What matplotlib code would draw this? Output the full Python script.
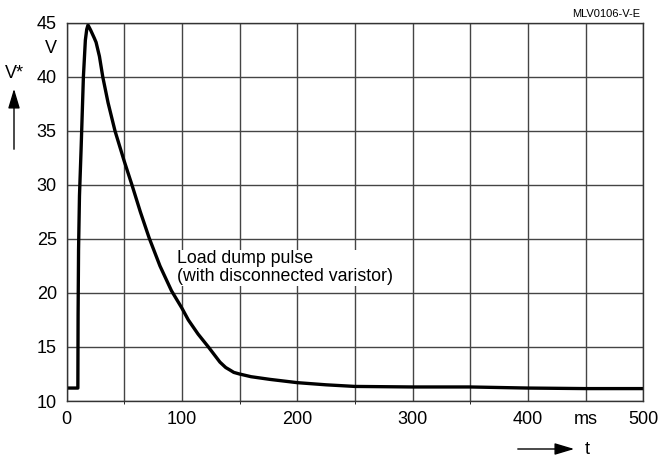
import matplotlib
matplotlib.use("Agg")
import matplotlib.pyplot as plt

# load dump pulse
t_ms = [0, 9.8, 10.0, 10.4, 11.2, 12.6, 14.6, 16.3, 17.5, 18.6, 21, 24, 25.6,
        28.5, 31.4, 36, 42, 50, 57, 64, 71.6, 81, 91, 100, 105.6, 114, 123, 133,
        138, 141.8, 145, 150, 160, 176.5, 200, 225, 250, 300, 350, 400, 450, 500]
volts = [11.2, 11.2, 18, 24, 29, 33.3, 40, 43.4, 44.4, 44.8, 44.3, 43.6, 43.2,
         41.9, 40, 37.6, 35.0, 32.2, 29.9, 27.5, 25.1, 22.5, 20.2, 18.6, 17.5,
         16.2, 15, 13.6, 13.1, 12.86, 12.65, 12.5, 12.25, 12.0, 11.7, 11.5,
         11.35, 11.3, 11.3, 11.2, 11.15, 11.15]

x_ticks = [0, 100, 200, 300, 400, 450, 500]
x_labels = ['0', '100', '200', '300', '400', 'ms', '500']
y_ticks = [10, 15, 20, 25, 30, 35, 40, 45]

plt.rcParams['font.family'] = ['Liberation Sans', 'DejaVu Sans']

fig = plt.figure(figsize=(6.59, 4.57), dpi=100)
ax = fig.add_axes([0.101, 0.1225, 0.875, 0.8275])

ax.set_xlim(0, 500)
ax.set_ylim(10, 45)
ax.set_xticks(range(0, 501, 50), minor=True)
ax.set_yticks(y_ticks)
ax.set_xticks(x_ticks)
ax.set_xticklabels(x_labels)
ax.tick_params(length=0, labelsize=13, pad=7)
ax.grid(True, which='both', color='#444444', lw=1)
for s in ax.spines.values():
    s.set_color('#333333')
    s.set_linewidth(1)

ax.plot(t_ms, volts, color='black', lw=2.4, solid_joinstyle='round')

# label sits on a white patch that hides the grid behind it
ax.text(95.5, 22.35, 'Load dump pulse\n(with disconnected varistor)', fontsize=12.8,
        va='center', ha='left', linespacing=1.05,
        bbox=dict(facecolor='white', edgecolor='none', pad=0.5))

# unit labels and axis arrows
fig.text(57 / 659, 1 - 48.5 / 457, 'V', fontsize=13, ha='right', va='center')
fig.text(14.5 / 659, 1 - 73.5 / 457, 'V*', fontsize=13, ha='center', va='center')
fig.text(587 / 659, 1 - 449 / 457, 't', fontsize=13, ha='center', va='center')
fig.text(640 / 659, 1 - 14 / 457, 'MLV0106-V-E', fontsize=8, ha='right', va='center')

arrow = dict(arrowstyle='-|>,head_length=1.0,head_width=0.3', color='black', lw=1)
fig.add_artist(matplotlib.patches.FancyArrowPatch(
    (14 / 659, 1 - 152 / 457), (14 / 659, 1 - 86 / 457),
    transform=fig.transFigure, mutation_scale=12, **arrow))
fig.add_artist(matplotlib.patches.FancyArrowPatch(
    (515 / 659, 1 - 449 / 457), (577 / 659, 1 - 449 / 457),
    transform=fig.transFigure, mutation_scale=12, **arrow))

fig.savefig('out.png', dpi=100)
